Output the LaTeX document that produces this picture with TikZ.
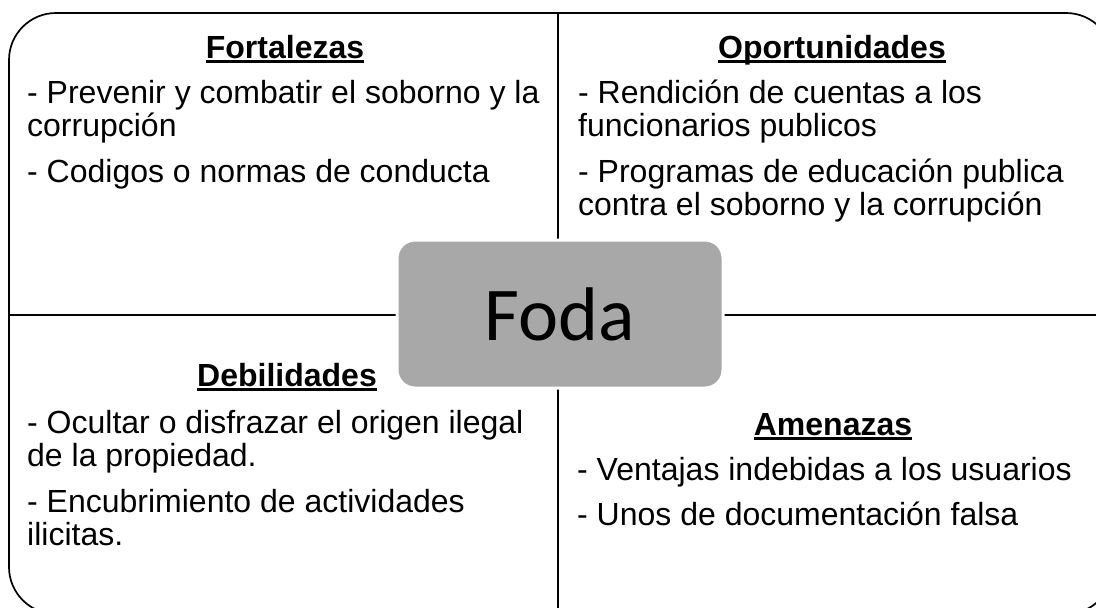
\documentclass[tikz,border=0pt]{standalone}
\usepackage{fontspec}
\setmainfont{Liberation Sans}
\newfontfamily\fodafont{Carlito}
\usepackage{tikz}
\definecolor{fodagris}{HTML}{A8A8A8}
\newcommand{\subrayado}[1]{\setbox0=\hbox{#1}\rlap{\rule[-4.5pt]{\wd0}{2.2pt}}\box0}

\begin{document}
\begin{tikzpicture}[x=1pt,y=1pt]
\tikzstyle{every node}+=[inner sep=0pt]
\tikzstyle{titulo}=[font=\fontsize{32}{34}\selectfont\bfseries, anchor=base]
\tikzstyle{linea}=[font=\fontsize{32}{34}\selectfont, anchor=base west]
\tikzstyle{borde}=[black, line width=1.7pt]
\useasboundingbox (0,0) rectangle (1096,-608);
\clip (0,0) rectangle (1096,-608);
\draw [borde, rounded corners=47pt] (9,-13) rectangle (1113,-614);
\draw [borde] (558,-13) -- (558,-614);
\draw [borde] (9,-315) -- (1113,-315);
\node [fill=fodagris, draw=white, line width=3pt, rounded corners=18pt, minimum width=326pt, minimum height=148pt, font=\fodafont\fontsize{76}{80}\selectfont] (foda) at (560,-314) {Foda};
% Fortalezas
\node [titulo] (fort) at (285,-58) {\subrayado{Fortalezas}};
\node [linea] (fort1) at (27,-103) {- Prevenir y combatir el soborno y la};
\node [linea] (fort2) at (27,-136) {corrupción};
\node [linea] (fort3) at (27,-182) {- Codigos o normas de conducta};
% Oportunidades
\node [titulo] (oport) at (832,-58) {\subrayado{Oportunidades}};
\node [linea] (oport1) at (578,-103) {- Rendición de cuentas a los};
\node [linea] (oport2) at (578,-136) {funcionarios publicos};
\node [linea] (oport3) at (578,-182) {- Programas de educación publica};
\node [linea] (oport4) at (578,-215) {contra el soborno y la corrupción};
% Debilidades
\node [titulo] (debil) at (287,-386) {\subrayado{Debilidades}};
\node [linea] (debil1) at (27,-433) {- Ocultar o disfrazar el origen ilegal};
\node [linea] (debil2) at (27,-466) {de la propiedad.};
\node [linea] (debil3) at (27,-512) {- Encubrimiento de actividades};
\node [linea] (debil4) at (27,-545) {ilicitas.};
% Amenazas
\node [titulo] (amen) at (833,-435) {\subrayado{Amenazas}};
\node [linea] (amen1) at (577,-480) {- Ventajas indebidas a los usuarios};
\node [linea] (amen2) at (577,-525) {- Unos de documentación falsa};
\end{tikzpicture}
\end{document}
